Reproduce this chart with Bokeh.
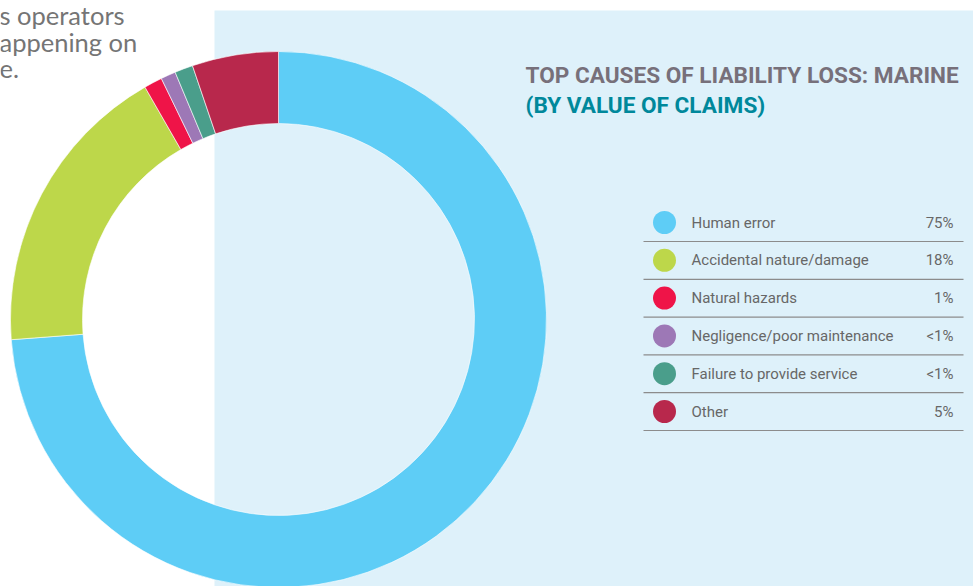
from math import pi
import numpy as np
from bokeh.plotting import figure
from bokeh.models import Range1d, ColumnDataSource
from bokeh.core.properties import value
from bokeh.embed import file_html
from bokeh.resources import INLINE

# ---- data ----
categories = ["Human error", "Accidental nature/damage", "Natural hazards",
              "Negligence/poor maintenance", "Failure to provide service", "Other"]
shares = [73.8, 17.9, 1.1, 0.9, 1.1, 5.2]
pct_labels = ["75%", "18%", "1%", "<1%", "<1%", "5%"]
colors = ["#5ECDF6", "#BDD74A", "#EF1448", "#9D78B6", "#4A9E8B", "#B8284C"]
title_line1 = "TOP CAUSES OF LIABILITY LOSS: MARINE"
title_line2 = "(BY VALUE OF CLAIMS)"
intro_lines = ["s operators", "appening on", "e."]

W, H = 973, 586
def Y(py):
    return H - py

p = figure(width=W, height=H, output_backend="svg", toolbar_location=None,
           x_range=Range1d(0, W), y_range=Range1d(0, H), min_border=0,
           outline_line_color=None, background_fill_color="white",
           border_fill_color="white")
p.axis.visible = False
p.xgrid.visible = False
p.ygrid.visible = False

# light blue panel
p.quad(left=214, right=W, top=Y(10), bottom=Y(H), fill_color="#DEF1FA", line_color=None)

# donut
frac = np.array(shares) / np.sum(shares)
cum = np.concatenate([[0], np.cumsum(frac)])
starts = pi / 2 - 2 * pi * cum[:-1]
ends = pi / 2 - 2 * pi * cum[1:]
src = ColumnDataSource(dict(start=starts, end=ends, color=colors, cat=categories))
p.annular_wedge(x=278, y=Y(319), inner_radius=196, outer_radius=268,
                start_angle="start", end_angle="end", direction="clock",
                fill_color="color", line_color="white", line_width=0.6, source=src)

# intro text (cut off at left)
for i, t in enumerate(intro_lines):
    p.text(x=[-1], y=[Y(14 + 27 * i)], text=[t], text_font=value("Lato"),
           text_font_size="25.5px", text_color="#757575", text_baseline="alphabetic")

# titles
p.text(x=[525], y=[Y(75)], text=[title_line1], text_font=value("Roboto"),
       text_font_size="22.6px", text_font_style="bold", text_color="#77707A",
       text_baseline="alphabetic")
p.text(x=[525], y=[Y(105)], text=[title_line2], text_font=value("Roboto"),
       text_font_size="22.6px", text_font_style="bold", text_color="#00889B",
       text_baseline="alphabetic")

# legend
row_y = [222 + 37.8 * i for i in range(len(categories))]
leg = ColumnDataSource(dict(
    y=[Y(v) for v in row_y], yline=[Y(v + 19) for v in row_y],
    cat=categories, pct=pct_labels, color=colors))
p.scatter(x=664, y="y", size=23, fill_color="color", line_color=None, source=leg)
p.text(x=691, y="y", text="cat", text_font=value("Roboto"), text_font_size="15px",
       text_color="#676767", text_baseline="middle", source=leg)
p.text(x=953, y="y", text="pct", text_font=value("Roboto"), text_font_size="15px",
       text_color="#676767", text_baseline="middle", text_align="right", source=leg)
p.segment(x0=643, x1=963, y0="yline", y1="yline", line_color="#8C8C8C",
          line_width=1.2, source=leg)

open("out.html", "w").write(file_html(p, INLINE))
